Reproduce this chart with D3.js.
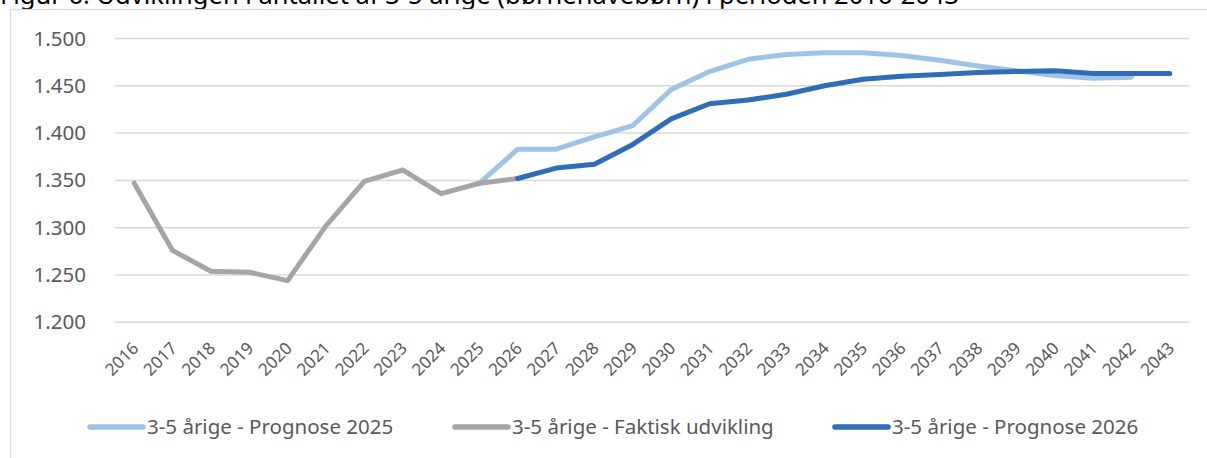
<!DOCTYPE html>
<html>
<head>
<meta charset="utf-8">
<script src="https://cdn.jsdelivr.net/npm/d3@7"></script>
<style>
  body { margin: 0; background: #fff; }
  svg { display: block; font-family: "Noto Sans", sans-serif; }
</style>
</head>
<body>
<div class="chart"></div>
<script>
// Years on the x axis
var years = d3.range(2016, 2044).map(String);

// Antal 3-5 årige
var faktiskYears = years.slice(0, 11);          // 2016-2026
var faktisk = [1347, 1276, 1254, 1253, 1244, 1302, 1349, 1361, 1336, 1347, 1352];

var prog2025Years = years.slice(9, 27);         // 2025-2042
var prog2025 = [1347, 1383, 1383, 1396, 1408, 1446, 1465, 1478, 1483, 1485,
                1485, 1482, 1477, 1471, 1466, 1461, 1458, 1459];

var prog2026Years = years.slice(10, 28);        // 2026-2043
var prog2026 = [1352, 1363, 1367, 1388, 1415, 1431, 1435, 1441, 1450, 1457,
                1460, 1462, 1464, 1465, 1466, 1463, 1463, 1463];

var yTicks = [1200, 1250, 1300, 1350, 1400, 1450, 1500];

var seriesNames = ["3-5 årige - Prognose 2025", "3-5 årige - Faktisk udvikling", "3-5 årige - Prognose 2026"];
var seriesColors = ["#9dc3e6", "#a5a5a5", "#2f6db8"];

var width = 1207, height = 458;
var fmt = function (v) { return d3.format(",")(v).replace(",", "."); };

var svg = d3.select(".chart").append("svg")
    .attr("width", width)
    .attr("height", height);

// Title, cut off at the top in the original
svg.append("text")
    .attr("x", 0)
    .attr("y", 4)
    .attr("font-size", 25.5)
    .attr("fill", "#000")
    .text("Figur 6: Udviklingen i antallet af 3-5 årige (børnehavebørn) i perioden 2016-2043");

// Chart frame
svg.append("rect")
    .attr("x", 10.5)
    .attr("y", 9.5)
    .attr("width", 1220)
    .attr("height", 480)
    .attr("fill", "none")
    .attr("stroke", "#d9d9d9")
    .attr("stroke-width", 1.3);

var x = d3.scalePoint().domain(years).range([115, 1189]).padding(0.5);
var y = d3.scaleLinear().domain([1200, 1500]).range([322.3, 38.5]);

// Gridlines
svg.append("g")
    .selectAll("line")
    .data(yTicks)
    .join("line")
    .attr("x1", 115)
    .attr("x2", 1189)
    .attr("y1", function (d) { return y(d); })
    .attr("y2", function (d) { return y(d); })
    .attr("stroke", "#d9d9d9")
    .attr("stroke-width", 1.5);

// Y axis
var yAxis = svg.append("g")
    .attr("transform", "translate(86,0)")
    .call(d3.axisLeft(y).tickValues(yTicks).tickFormat(fmt).tickSize(0).tickPadding(0));
yAxis.select(".domain").remove();
yAxis.selectAll("text")
    .attr("font-family", "Noto Sans")
    .attr("font-size", 20.5)
    .attr("fill", "#595959");

// X axis labels (rotated)
var xAxis = svg.append("g")
    .attr("transform", "translate(0,322.3)")
    .call(d3.axisBottom(x).tickSize(0).tickPadding(0));
xAxis.select(".domain").remove();
xAxis.selectAll("text")
    .attr("font-family", "Noto Sans")
    .attr("font-size", 17)
    .attr("fill", "#595959")
    .attr("text-anchor", "end")
    .attr("dy", 0)
    .attr("y", 0)
    .attr("transform", "translate(5,27) rotate(-45)");

var line = d3.line()
    .x(function (d) { return x(d[0]); })
    .y(function (d) { return y(d[1]); });

var series = [
    d3.zip(prog2025Years, prog2025),
    d3.zip(faktiskYears, faktisk),
    d3.zip(prog2026Years, prog2026)
];

svg.append("g")
    .selectAll("path")
    .data(series)
    .join("path")
    .attr("d", line)
    .attr("fill", "none")
    .attr("stroke", function (d, i) { return seriesColors[i]; })
    .attr("stroke-width", 5)
    .attr("stroke-linejoin", "round")
    .attr("stroke-linecap", "round");

// Legend
var legendX = [88, 453, 833];
var legend = svg.append("g")
    .selectAll("g")
    .data(seriesNames)
    .join("g")
    .attr("transform", function (d, i) { return "translate(" + legendX[i] + ",427)"; });

legend.append("line")
    .attr("x1", 2)
    .attr("x2", 55)
    .attr("stroke", function (d, i) { return seriesColors[i]; })
    .attr("stroke-width", 5.5)
    .attr("stroke-linecap", "round");

legend.append("text")
    .attr("x", 59)
    .attr("dy", "0.35em")
    .attr("font-size", 20.5)
    .attr("fill", "#595959")
    .text(function (d) { return d; });
</script>
</body>
</html>
